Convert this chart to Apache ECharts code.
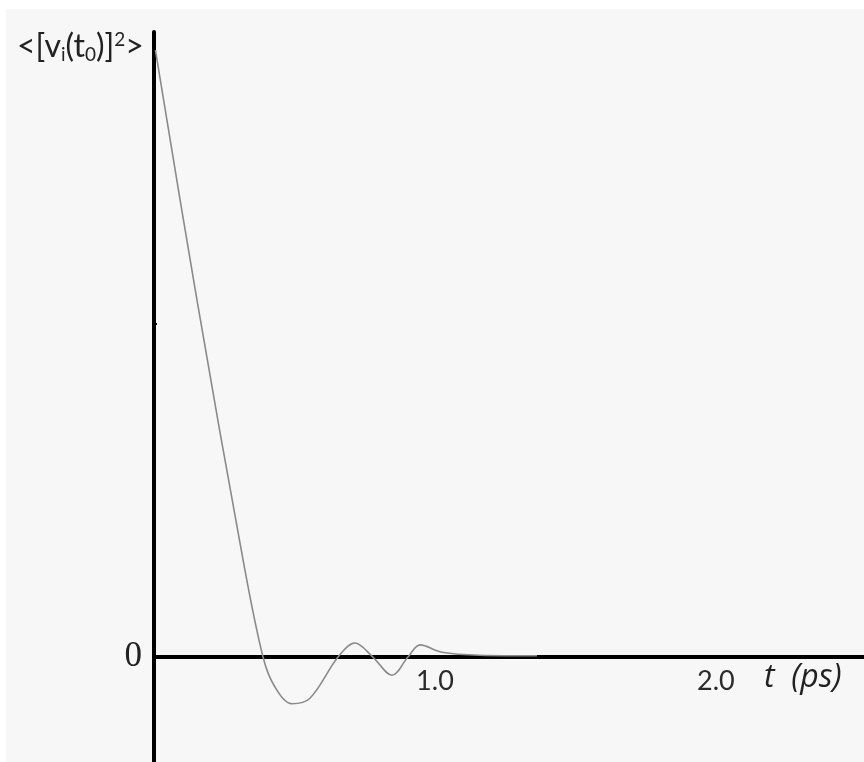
<!DOCTYPE html>
<html>
<head>
<meta charset="utf-8">
<script src="https://cdn.jsdelivr.net/npm/echarts@6/dist/echarts.min.js"></script>
<style>
html,body{margin:0;padding:0;background:#ffffff;}
#chart{position:absolute;left:6px;top:9px;width:858px;height:753px;background:#f7f7f7;}
</style>
</head>
<body>
<div id="chart"></div>
<script>
// time (ps)
const timePs = [0.005, 0.153, 0.317, 0.388, 0.43, 0.491, 0.555, 0.655, 0.715, 0.779, 0.847, 0.904, 0.947, 1.025, 1.16, 1.363];
// velocity autocorrelation (normalised to <[v(t0)]^2>)
const vacf = [1.0, 0.588, 0.160, 0.0, -0.049, -0.077, -0.068, 0.0, 0.023, 0.0, -0.030, 0.0, 0.020, 0.008, 0.003, 0.002];
const xTickValues = [1, 2];
const xTickLabels = ['1.0', '2.0'];
const yTickValues = [0];
const yTickLabels = ['0'];

const Y_MIN = -0.173, Y_MAX = 1.03;
const GRID_H = 730;
const chart = echarts.init(document.getElementById('chart'));
const pts = timePs.map((t, i) => [t, vacf[i]]);
chart.setOption({
  animation: false,
  backgroundColor: '#f7f7f7',
  grid: {left: 148, top: 23, right: 0, bottom: 0, containLabel: false, outerBoundsMode: 'none'},
  xAxis: {
    type: 'value', min: 0, max: 2.527, position: 'bottom',
    offset: -Math.round(GRID_H * (0 - Y_MIN) / (Y_MAX - Y_MIN)),
    splitLine: {show: false},
    axisLine: {onZero: false, lineStyle: {color: '#000', width: 4}},
    axisTick: {show: false},
    axisLabel: {
      customValues: xTickValues,
      formatter: v => xTickLabels[xTickValues.indexOf(v)],
      margin: 11, fontSize: 27, fontFamily: 'Lato', color: '#2a2a2a'
    }
  },
  yAxis: {
    type: 'value', min: Y_MIN, max: Y_MAX,
    splitLine: {show: false},
    axisLine: {onZero: false, lineStyle: {color: '#000', width: 4}},
    axisTick: {customValues: [0.55], inside: true, length: 3, lineStyle: {color: '#000', width: 2}},
    axisLabel: {
      customValues: yTickValues,
      formatter: v => yTickLabels[yTickValues.indexOf(v)],
      margin: 12, fontSize: 35, fontFamily: 'Liberation Serif', color: '#222'
    }
  },
  graphic: [
    {
      type: 'text', left: 11, top: 21,
      style: {
        text: '<[v{sub|i}(t{sub|0})]{sup|2}>',
        fontSize: 32, fontFamily: 'Lato', fill: '#222',
        rich: {
          sub: {fontSize: 19, fontFamily: 'Lato', fill: '#222', verticalAlign: 'bottom', padding: [15, 0, 0, 0]},
          sup: {fontSize: 19, fontFamily: 'Lato', fill: '#222', verticalAlign: 'top', padding: [0, 0, 15, 0]}
        }
      }
    },
    {
      type: 'text', left: 758, top: 653,
      style: {text: 't  (ps)', fontSize: 32, fontStyle: 'italic', fontFamily: 'Open Sans', fill: '#222'}
    }
  ],
  series: [{
    type: 'line', data: pts, smooth: 0.35, showSymbol: false,
    lineStyle: {color: '#8a8a8a', width: 1.6}
  }]
});
</script>
</body>
</html>
